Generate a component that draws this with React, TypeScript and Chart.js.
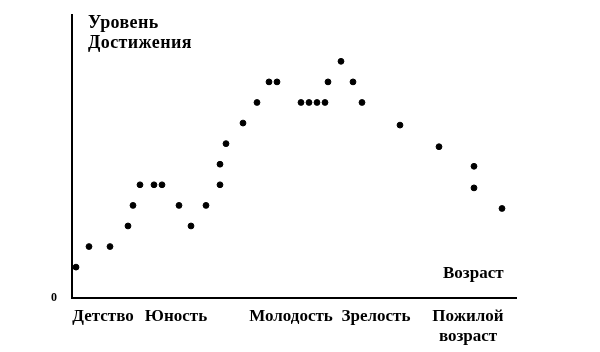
import React, { useEffect, useRef } from "react";
import { Chart, registerables } from "chart.js";

Chart.register(...registerables);

// Age (arbitrary units along the axis) and achievement level for each observation
const ages = [4, 17, 38, 56, 61, 68, 82, 90, 107, 119, 134, 148, 148, 154, 171, 185, 197, 205, 229, 237, 245, 253, 256, 269, 281, 290, 328, 367, 402, 402, 430];
const levels = [1, 2, 2, 3, 4, 5, 5, 5, 4, 3, 4, 5, 6, 7, 8, 9, 10, 10, 9, 9, 9, 9, 10, 11, 10, 9, 7.9, 6.85, 5.9, 4.85, 3.85];

// Life stages shown under the axis
const stageNames: (string | string[])[] = ["Детство", "Юность", "Молодость", "Зрелость", ["Пожилой", "возраст"]];
const stagePositions = [31, 104, 219, 304, 396];

const yAxisTitle = ["Уровень", "Достижения"];
const xAxisTitle = "Возраст";
const zeroLabel = "0";

const FONT = "'Liberation Serif', 'DejaVu Serif', serif";

export default function App() {
  const ref = useRef<HTMLCanvasElement | null>(null);

  useEffect(() => {
    if (!ref.current) return;
    const chart = new Chart(ref.current, {
      type: "scatter",
      data: {
        datasets: [
          {
            data: ages.map((a, i) => ({ x: a, y: levels[i] })),
            backgroundColor: "#000",
            borderColor: "#000",
            pointRadius: 2.9,
            pointHoverRadius: 2.9,
          },
        ],
      },
      options: {
        animation: false,
        responsive: false,
        events: [],
        layout: { padding: { top: 15, right: 84, left: 0, bottom: 0 } },
        plugins: { legend: { display: false }, tooltip: { enabled: false } },
        scales: {
          x: {
            type: "linear",
            min: 0,
            max: 444,
            grid: { display: false, drawTicks: false },
            border: { display: true, color: "#000", width: 2 },
            afterBuildTicks: (scale: any) => {
              scale.ticks = stagePositions.map((v) => ({ value: v }));
            },
            afterFit: (scale: any) => {
              scale.height = 54;
            },
            ticks: {
              autoSkip: false,
              maxRotation: 0,
              padding: 8,
              color: "#000",
              font: { family: FONT, size: 17, weight: "bold", lineHeight: 1.2 },
              callback: (_v: any, i: number) => stageNames[i],
            },
          },
          y: {
            type: "linear",
            min: -0.5,
            max: 13.25,
            grid: { display: false, drawTicks: false },
            border: { display: true, color: "#000", width: 2 },
            afterBuildTicks: (scale: any) => {
              scale.ticks = [{ value: -0.5 }];
            },
            afterFit: (scale: any) => {
              scale.width = 72;
              scale.paddingTop = 0;
              scale.paddingBottom = 0;
            },
            ticks: {
              padding: 15,
              color: "#000",
              font: { family: FONT, size: 12, weight: "bold" },
              callback: () => zeroLabel,
            },
          },
        },
      },
    });
    return () => chart.destroy();
  }, []);

  const textStyle: React.CSSProperties = {
    position: "absolute",
    fontFamily: FONT,
    fontWeight: "bold",
    color: "#000",
    whiteSpace: "nowrap",
  };

  return (
    <div style={{ position: "fixed", left: 0, top: 0, width: 600, height: 352, background: "#fff" }}>
      <canvas ref={ref} width={600} height={352} style={{ width: 600, height: 352, display: "block" }} />
      <div style={{ ...textStyle, left: 88, top: 12, fontSize: 18, lineHeight: "20px", letterSpacing: "0.4px" }}>
        {yAxisTitle[0]}
        <br />
        {yAxisTitle[1]}
      </div>
      <div style={{ ...textStyle, left: 443, top: 262, fontSize: 17, lineHeight: "21px" }}>{xAxisTitle}</div>
    </div>
  );
}
